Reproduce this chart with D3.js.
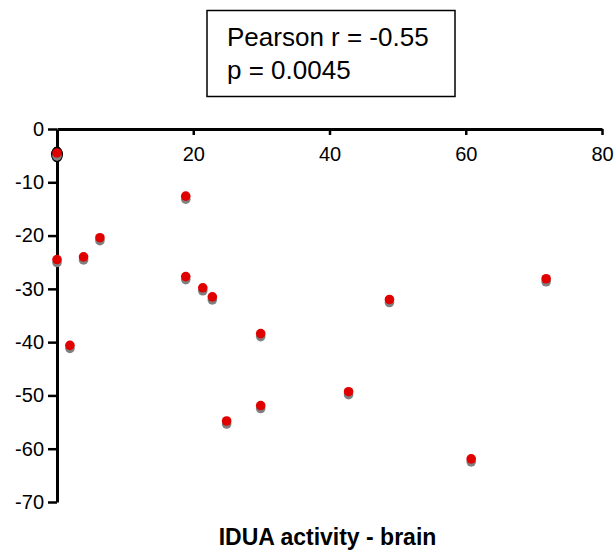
<!DOCTYPE html>
<html>
<head>
<meta charset="utf-8">
<script src="https://cdn.jsdelivr.net/npm/d3@7"></script>
<style>
  html, body { margin: 0; padding: 0; background: #fff; }
  svg { display: block; font-family: "Liberation Sans", Arial, sans-serif; }
</style>
</head>
<body>
<svg id="chart" width="616" height="550"></svg>
<script>
// Data
const xValues = [0, 0, 3.9, 6.3, 18.9, 18.9, 21.4, 22.8, 29.9, 48.8, 71.8, 42.8, 1.9, 24.9, 29.9, 60.8];
const yValues = [-4.5, -24.5, -24.0, -20.4, -12.6, -27.7, -29.8, -31.5, -38.4, -32.0, -28.1, -49.3, -40.6, -54.8, -51.9, -61.9];
const highlighted = [true, false, false, false, false, false, false, false, false, false, false, false, false, false, false, false];
const xTicks = [20, 40, 60, 80];
const yTicks = [0, -10, -20, -30, -40, -50, -60, -70];
const xLabel = "IDUA activity - brain";
const statLines = ["Pearson r = -0.55", "p = 0.0045"];

const svg = d3.select("#chart");

const x = d3.scaleLinear().domain([0, 80]).range([57, 602]);
const y = d3.scaleLinear().domain([0, -70]).range([129, 502]);
const fmt = d => String(d);

// X axis (at y=0, labels below, ticks pointing down)
const gx = svg.append("g")
  .attr("transform", `translate(0,${y(0)})`)
  .call(d3.axisBottom(x).tickValues(xTicks).tickSize(6).tickSizeOuter(0).tickPadding(12).tickFormat(fmt));
gx.select(".domain").attr("stroke", "#000").attr("stroke-width", 3);
gx.selectAll(".tick line").attr("stroke", "#000").attr("stroke-width", 2.5);
gx.selectAll(".tick text").attr("font-size", 20).attr("fill", "#000")
  .attr("font-family", "Liberation Sans, Arial, sans-serif");

// Y axis
const gy = svg.append("g")
  .attr("transform", `translate(${x(0)},0)`)
  .call(d3.axisLeft(y).tickValues(yTicks).tickSize(9).tickSizeOuter(0).tickPadding(4).tickFormat(fmt));
gy.select(".domain").attr("stroke", "#000").attr("stroke-width", 3);
gy.selectAll(".tick line").attr("stroke", "#000").attr("stroke-width", 2.5);
gy.selectAll(".tick text").attr("font-size", 20).attr("fill", "#000")
  .attr("font-family", "Liberation Sans, Arial, sans-serif");

const pts = xValues.map((v, i) => ({ x: v, y: yValues[i], hi: highlighted[i] }));

// Highlight outline (behind)
svg.append("g").selectAll("ellipse")
  .data(pts.filter(d => d.hi))
  .join("ellipse")
  .attr("cx", d => x(d.x))
  .attr("cy", d => y(d.y) + 1.5)
  .attr("rx", 5)
  .attr("ry", 7)
  .attr("fill", "#7f7f7f")
  .attr("stroke", "#000")
  .attr("stroke-width", 2);

// Shadows
svg.append("g").selectAll("circle")
  .data(pts)
  .join("circle")
  .attr("cx", d => x(d.x))
  .attr("cy", d => y(d.y) + 3)
  .attr("r", 4.8)
  .attr("fill", "#808080");

// Points
svg.append("g").selectAll("circle")
  .data(pts)
  .join("circle")
  .attr("cx", d => x(d.x))
  .attr("cy", d => y(d.y))
  .attr("r", 4.8)
  .attr("fill", "#e00000");

// Stats box
svg.append("rect")
  .attr("x", 207).attr("y", 10.5).attr("width", 248).attr("height", 86)
  .attr("fill", "#fff").attr("stroke", "#000").attr("stroke-width", 1.5);
svg.append("g").selectAll("text")
  .data(statLines)
  .join("text")
  .attr("x", 227)
  .attr("y", (d, i) => 46 + i * 33)
  .attr("font-size", 26)
  .attr("fill", "#000")
  .text(d => d);

// X axis title
svg.append("text")
  .attr("x", (x(0) + x(80)) / 2 - 2)
  .attr("y", 545)
  .attr("text-anchor", "middle")
  .attr("font-size", 23)
  .attr("font-weight", "bold")
  .attr("fill", "#000")
  .text(xLabel);
</script>
</body>
</html>
